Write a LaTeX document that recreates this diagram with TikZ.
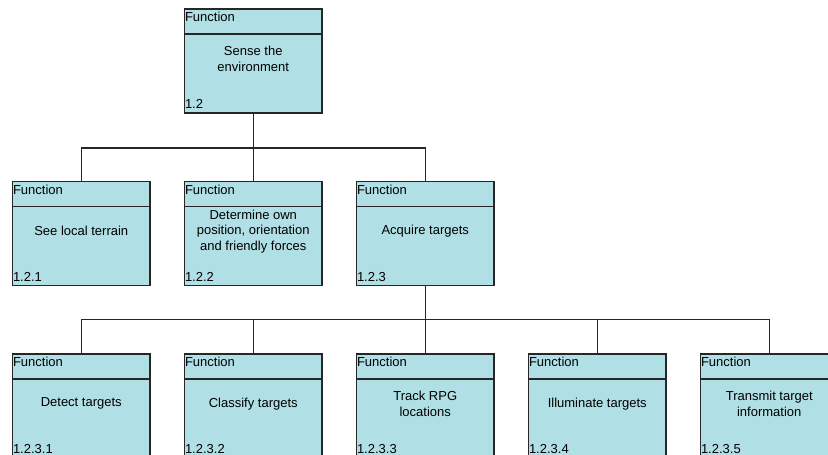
\documentclass[tikz,border=0pt]{standalone}
\usepackage{fontspec}
\setmainfont{Liberation Sans}
\definecolor{fnfill}{HTML}{B0DFE5}
\begin{document}
\begin{tikzpicture}[x=1pt,y=-1pt,
  fbox/.style={draw=black!85, line width=1.4pt, fill=fnfill, minimum width=137.5pt, minimum height=104pt, inner sep=0pt},
  ftext/.style={font=\fontsize{13}{15.5}\selectfont, align=center, inner sep=0pt},
  flabel/.style={font=\fontsize{13}{15}\selectfont, inner sep=0pt, anchor=base west},
  conn/.style={draw=black!85, line width=1.4pt}]
\useasboundingbox (0,0) rectangle (828,455);
\clip (0,0) rectangle (828,455);
% boxes
\newcommand{\fnbox}[5]{%
  \node[fbox] (#1) at (#2,#3) {};
  \draw[conn] ([yshift=-25.5pt]#1.north west) -- ([yshift=-25.5pt]#1.north east);
  \node[flabel] (#1h) at ([xshift=1pt,yshift=-13.5pt]#1.north west) {Function};
  \node[ftext] (#1t) at ([yshift=-50.5pt]#1.north) {#4};
  \node[flabel] (#1n) at ([xshift=1pt,yshift=5pt]#1.south west) {#5};
}
\fnbox{a}{253.25}{61}{Sense the\\environment}{1.2}
\fnbox{b1}{81.25}{233.5}{See local terrain}{1.2.1}
\fnbox{b2}{253.25}{233.5}{Determine own\\position, orientation\\and friendly forces}{1.2.2}
\fnbox{b3}{425.25}{233.5}{Acquire targets}{1.2.3}
\fnbox{c1}{81.25}{406}{Detect targets}{1.2.3.1}
\fnbox{c2}{253.25}{406}{Classify targets}{1.2.3.2}
\fnbox{c3}{425.25}{406}{Track RPG\\locations}{1.2.3.3}
\fnbox{c4}{597.25}{406}{Illuminate targets}{1.2.3.4}
\fnbox{c5}{769.25}{406}{Transmit target\\information}{1.2.3.5}
% connectors
\foreach \c in {b1,b2,b3} \draw[conn] (a.south) -- ++(0,34.3) -| (\c.north);
\foreach \c in {c1,c2,c3,c4,c5} \draw[conn] (b3.south) -- ++(0,33.5) -| (\c.north);
\end{tikzpicture}
\end{document}
